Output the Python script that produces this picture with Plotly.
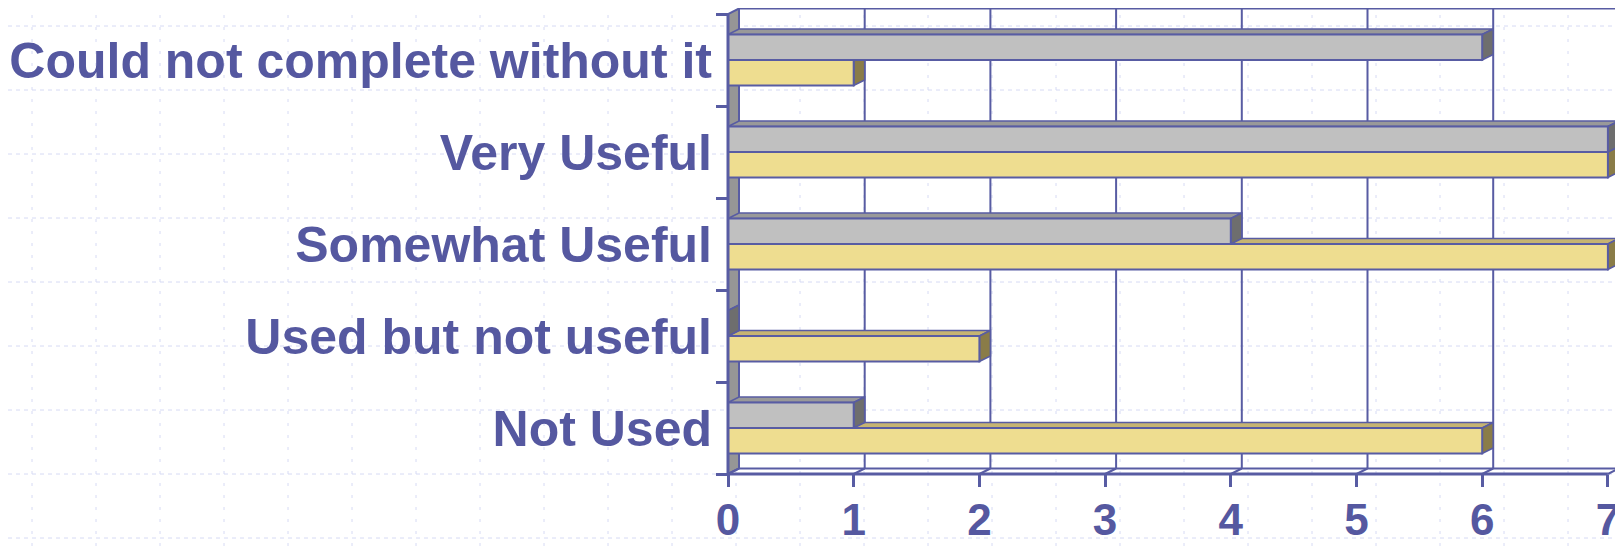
import plotly.graph_objects as go

# ---------------- data ----------------
categories = ["Not Used", "Used but not useful", "Somewhat Useful",
              "Very Useful", "Could not complete without it"]
gray_values = [1, 0, 4, 7, 6]
yellow_values = [6, 2, 7, 7, 1]
x_tick_values = [0, 1, 2, 3, 4, 5, 6, 7]
x_max = 7

# ---------------- layout constants ----------------
OFF = 8                      # page body margin (window px)
W, H = 1623 - OFF, 546 - OFF
PX0, PXU = 728.0, 125.7      # window pixel of x=0, pixels per unit
PYB, PYU = 474.0, 92.0       # window pixel of bottom boundary, pixels per category


def xr(px):
    return (px - PX0) / PXU


def yr(py):
    return -0.5 + (PYB - py) / PYU


def fx(px):  # window px -> paper x
    return min(1.0, max(0.0, (px - OFF) / W))


def fy(py):  # window py -> paper y
    return min(1.0, max(0.0, 1 - (py - OFF) / H))


XDOM = (720, 1623)
YDOM = (478, 8)
DX = 11.0 / PXU
DY = 5.5 / PYU
BARGAP = 0.447
BW = (1 - BARGAP) / 2

INK = "#585ca3"
TEXT = "#5558a0"
GRAY_FRONT, GRAY_TOP, GRAY_SIDE = "#c0c0c0", "#999999", "#6e6e6e"
YEL_FRONT, YEL_TOP, YEL_SIDE = "#eedd90", "#c6b472", "#8a7c48"
WALL = "#969696"
BG_GRID = "#d6daf4"

n = len(categories)
pos = list(range(n))
y_lo, y_hi = -0.5, n - 0.5

fig = go.Figure()
fig.add_trace(go.Bar(y=pos, x=yellow_values, orientation="h", name="yellow",
                     marker=dict(color=YEL_FRONT, line=dict(color=INK, width=2)),
                     showlegend=False))
fig.add_trace(go.Bar(y=pos, x=gray_values, orientation="h", name="gray",
                     marker=dict(color=GRAY_FRONT, line=dict(color=INK, width=2)),
                     showlegend=False))

shapes = []
# slide background dotted grid (paper coordinates)
for k in range(26):
    px = 32 + 64 * k
    shapes.append(dict(type="line", xref="paper", yref="paper", layer="below",
                       x0=fx(px), x1=fx(px), y0=0, y1=1,
                       line=dict(color=BG_GRID, width=1, dash="3px,9px")))
for k in range(9):
    py = 26 + 64 * k
    shapes.append(dict(type="line", xref="paper", yref="paper", layer="below",
                       x0=0, x1=1, y0=fy(py), y1=fy(py),
                       line=dict(color=BG_GRID, width=1, dash="4px,4px")))


def poly(pts, fill, lw=2):
    d = "M " + " L ".join(f"{a},{b}" for a, b in pts) + " Z"
    return dict(type="path", xref="x", yref="y", layer="below", path=d,
                fillcolor=fill, line=dict(color=INK, width=lw))


def seg(a, b, c, d, lw=2):
    return dict(type="line", xref="x", yref="y", layer="below",
                x0=a, y0=b, x1=c, y1=d, line=dict(color=INK, width=lw))


# left wall
shapes.append(poly([(0, y_lo), (0, y_hi), (DX, y_hi + DY), (DX, y_lo + DY)], WALL))
# back wall grid lines + floor diagonals
for v in x_tick_values:
    if v > 0:
        shapes.append(seg(v + DX, y_lo + DY, v + DX, y_hi + DY))
    shapes.append(seg(v, y_lo, v + DX, y_lo + DY))
shapes.append(seg(DX, y_lo + DY, x_max + DX, y_lo + DY))
shapes.append(seg(DX, y_hi + DY, x_max + DX, y_hi + DY))

# bar 3D faces
for vals, yoff, top_c, side_c in ((yellow_values, -BW, YEL_TOP, YEL_SIDE),
                                  (gray_values, 0.0, GRAY_TOP, GRAY_SIDE)):
    for i, v in enumerate(vals):
        yb = pos[i] + yoff
        yt = yb + BW
        shapes.append(poly([(0, yt), (v, yt), (v + DX, yt + DY), (DX, yt + DY)], top_c, 1.6))
        shapes.append(poly([(v, yb), (v, yt), (v + DX, yt + DY), (v + DX, yb + DY)], side_c, 1.6))

# front axis lines
shapes.append(dict(type="line", xref="x", yref="y", layer="above",
                   x0=0, x1=0, y0=y_lo, y1=y_hi, line=dict(color=INK, width=3)))
shapes.append(dict(type="line", xref="x", yref="y", layer="above",
                   x0=0, x1=x_max, y0=y_lo, y1=y_lo, line=dict(color=INK, width=3)))

fig.update_layout(
    width=W, height=H,
    margin=dict(l=0, r=0, t=0, b=0, autoexpand=False),
    paper_bgcolor="white",
    plot_bgcolor="rgba(0,0,0,0)",
    barmode="group", bargap=BARGAP, bargroupgap=0,
    shapes=shapes,
    font=dict(family="Liberation Sans, Arial, sans-serif", color=TEXT),
    xaxis=dict(domain=[fx(XDOM[0]), fx(XDOM[1])], range=[xr(XDOM[0]), xr(XDOM[1])],
               anchor="free", position=fy(PYB), automargin=False,
               tickmode="array", tickvals=x_tick_values,
               ticktext=[str(v) for v in x_tick_values],
               ticks="outside", ticklen=12, tickwidth=2.5, tickcolor=INK,
               showgrid=False, zeroline=False, showline=False,
               tickfont=dict(size=44, color=TEXT, weight="bold"),
               ticklabelstandoff=-5),
    yaxis=dict(domain=[fy(YDOM[0]), fy(YDOM[1])], range=[yr(YDOM[0]), yr(YDOM[1])],
               anchor="free", position=fx(PX0), automargin=False,
               tickmode="array", tickvals=pos, ticktext=categories,
               ticks="", showgrid=False, zeroline=False, showline=False,
               minor=dict(tickmode="array", tickvals=[p - 0.5 for p in pos] + [y_hi],
                          ticks="outside", ticklen=12, tickwidth=2.5, tickcolor=INK,
                          showgrid=False),
               tickfont=dict(size=50, color=TEXT, weight="bold"),
               ticklabelstandoff=16),
)

fig.write_html("out.html")
